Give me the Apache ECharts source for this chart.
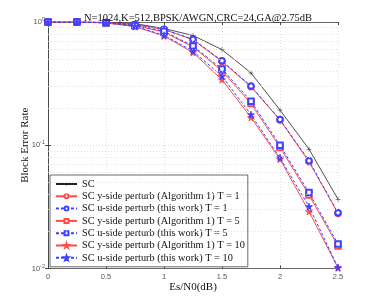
<!DOCTYPE html>
<html><head><meta charset="utf-8">
<script src="https://cdn.jsdelivr.net/npm/echarts@6/dist/echarts.min.js"></script>
<style>html,body{margin:0;padding:0;background:#fff}#c{width:374px;height:303px}</style>
</head><body><div id="c"></div>
<script>
const esn0 = [0, 0.25, 0.5, 0.75, 1.0, 1.25, 1.5, 1.75, 2.0, 2.25, 2.5];
const sc    = [1, 1, 0.995, 0.97, 0.885, 0.777, 0.597, 0.386, 0.193, 0.093, 0.0365];
const yT1   = [1, 1, 0.99, 0.955, 0.868, 0.718, 0.478, 0.298, 0.160, 0.0735, 0.0279];
const uT1   = [1, 1, 0.99, 0.956, 0.872, 0.725, 0.485, 0.302, 0.162, 0.0750, 0.0283];
const yT5   = [1, 1, 0.985, 0.935, 0.830, 0.628, 0.402, 0.218, 0.096, 0.0395, 0.0152];
const uT5   = [1, 1, 0.986, 0.938, 0.840, 0.640, 0.415, 0.228, 0.100, 0.0413, 0.0158];
const yT10  = [1, 1, 0.983, 0.918, 0.770, 0.565, 0.340, 0.168, 0.077, 0.0290, 0.0101];
const uT10  = [1, 1, 0.984, 0.922, 0.780, 0.580, 0.363, 0.177, 0.079, 0.0318, 0.0102];
const names = [
  'SC',
  'SC y-side perturb (Algorithm 1) T = 1',
  'SC u-side perturb (this work) T = 1',
  'SC y-side perturb (Algorithm 1) T = 5',
  'SC u-side perturb (this work) T = 5',
  'SC y-side perturb (Algorithm 1) T = 10',
  'SC u-side perturb (this work) T = 10'
];
const minorGrid = [0.02,0.03,0.04,0.05,0.06,0.07,0.08,0.09,0.2,0.3,0.4,0.5,0.6,0.7,0.8,0.9];

const plus = 'path://M-0.1,-1H0.1V-0.1H1V0.1H0.1V1H-0.1V0.1H-1V-0.1H-0.1Z';
const star = 'path://M0,-1L0.2245,-0.309L0.951,-0.309L0.3633,0.118L0.5878,0.809L0,0.382L-0.5878,0.809L-0.3633,0.118L-0.951,-0.309L-0.2245,-0.309Z';
const RED = '#ff4a4a', BLUE = '#4040ff';
const serif = '"Liberation Serif","DejaVu Serif",serif';

function mk(name, vals, color, dashed, symbol, size) {
  return {
    name, type: 'line', data: esn0.map((x, i) => [x, vals[i]]),
    symbol, symbolSize: size, showSymbol: true,
    lineStyle: { color, width: 1, type: dashed ? [3, 2] : 'solid' },
    itemStyle: { color, borderColor: color, borderWidth: 0.8 },
    emphasis: { disabled: true }, animation: false, z: dashed ? 4 : 3
  };
}
const series = [
  Object.assign(mk(names[0], sc, '#222', false, plus, 5), {
    lineStyle: { color: '#222', width: 0.8 },
    itemStyle: { color: '#222', borderWidth: 0 },
    markLine: { silent: true, symbol: 'none', label: { show: false }, animation: false,
      lineStyle: { color: '#d8d8d8', type: [1, 2], width: 0.8 },
      data: minorGrid.map(v => ({ yAxis: v })) }
  }),
  mk(names[1], yT1, RED, false, 'emptyCircle', 5.5),
  mk(names[2], uT1, BLUE, true, 'emptyCircle', 5.5),
  mk(names[3], yT5, RED, false, 'emptyRect', 5.5),
  mk(names[4], uT5, BLUE, true, 'emptyRect', 5.5),
  mk(names[5], yT10, RED, false, star, 7),
  mk(names[6], uT10, BLUE, true, star, 7)
];

const chart = echarts.init(document.getElementById('c'), null, { renderer: 'canvas' });
chart.setOption({
  animation: false,
  backgroundColor: '#fff',
  title: { text: 'N=1024,K=512,BPSK/AWGN,CRC=24,GA@2.75dB', left: 193, top: 8, textAlign: 'center',
    textStyle: { fontFamily: serif, fontSize: 10.5, fontWeight: 'normal', color: '#111' } },
  grid: { left: 48, right: 36, top: 22, bottom: 34.5, show: false },
  legend: {
    orient: 'vertical', left: 50, top: 175, data: names,
    backgroundColor: '#fff', borderColor: '#444', borderWidth: 0.8, borderRadius: 0,
    padding: [3, 3, 3, 5], itemGap: 0.3, itemWidth: 21, itemHeight: 5,
    textStyle: { fontFamily: serif, fontSize: 10.3, color: '#111', lineHeight: 12 },
    selectedMode: false
  },
  xAxis: [{
    type: 'value', min: 0, max: 2.5, interval: 0.5,
    name: 'Es/N0(dB)', nameLocation: 'middle', nameGap: 13, nameMoveOverlap: false,
    nameTextStyle: { fontFamily: serif, fontSize: 11, color: '#111' },
    axisLine: { lineStyle: { color: '#444', width: 0.8 } },
    axisTick: { inside: true, length: 3, lineStyle: { color: '#444' } },
    axisLabel: { fontSize: 7.5, color: '#555', margin: 4, fontFamily: 'Liberation Sans' },
    splitLine: { show: true, lineStyle: { color: '#d8d8d8', type: [1, 2], width: 0.8 } }
  }, {
    type: 'value', position: 'top', min: 0, max: 2.5, interval: 0.5,
    axisLine: { show: true, lineStyle: { color: '#444', width: 0.8 } },
    axisTick: { show: true, inside: true, length: 3, lineStyle: { color: '#444' } },
    axisLabel: { show: false }, splitLine: { show: false }
  }],
  yAxis: [{
    type: 'log', logBase: 10, min: 0.01, max: 1,
    name: 'Block Error Rate', nameLocation: 'middle', nameGap: 17, nameMoveOverlap: false,
    nameTextStyle: { fontFamily: serif, fontSize: 11, color: '#111' },
    axisLine: { show: true, lineStyle: { color: '#444', width: 0.8 } },
    axisTick: { show: true, inside: true, length: 3, lineStyle: { color: '#444' } },
    axisLabel: {
      margin: 3, color: '#555',
      formatter: v => '{b|10}{s|' + Math.round(Math.log10(v)) + '}',
      rich: { b: { fontSize: 7.5, color: '#555', fontFamily: 'Liberation Sans' },
              s: { fontSize: 5.5, color: '#555', verticalAlign: 'bottom', padding: [0, 0, 5, 0], fontFamily: 'Liberation Sans' } }
    },
    splitLine: { show: true, lineStyle: { color: '#d8d8d8', type: [1, 2], width: 0.8 } }
  }, {
    type: 'log', logBase: 10, min: 0.01, max: 1, position: 'right',
    axisLine: { show: true, lineStyle: { color: '#444', width: 0.8 } },
    axisTick: { show: true, inside: true, length: 3, lineStyle: { color: '#444' } },
    axisLabel: { show: false }, splitLine: { show: false }
  }],
  series
});
</script></body></html>
